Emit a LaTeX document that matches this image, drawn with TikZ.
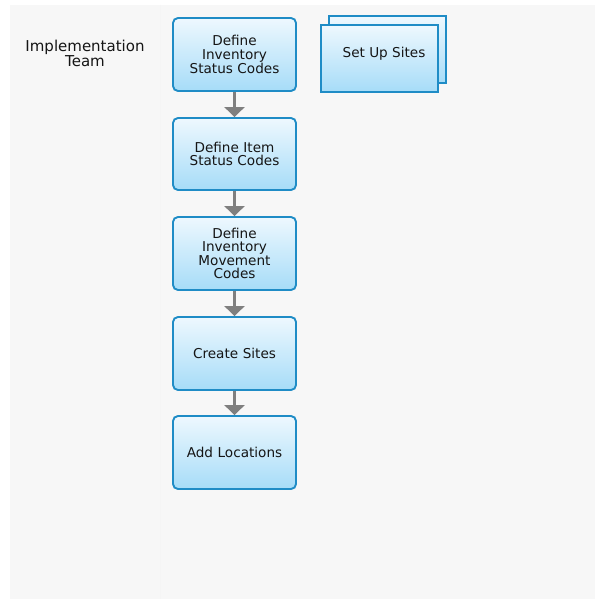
\documentclass[tikz,border=0pt]{standalone}
\usepackage{fontspec}
\setmainfont{DejaVu Sans}
\usetikzlibrary{arrows.meta}
\definecolor{panel}{HTML}{F7F7F7}
\definecolor{bordblue}{HTML}{1F8CC6}
\definecolor{topfill}{HTML}{EEF8FE}
\definecolor{botfill}{HTML}{A6DCF8}
\definecolor{arrowgray}{HTML}{7F7F7F}
\definecolor{txt}{HTML}{151515}
\tikzset{
  boxfont/.style={font=\fontsize{13.6}{13.6}\selectfont, text=txt},
  stepbox/.style={draw=bordblue, line width=1.9pt, rounded corners=5pt,
    top color=topfill, bottom color=botfill, minimum width=123pt,
    text width=118pt, align=center, inner sep=0pt, boxfont},
  flowarrow/.style={draw=arrowgray, line width=2.6pt,
    -{Triangle[width=20pt,length=10pt]}},
  stackbox/.style={draw=bordblue, line width=1.9pt,
    top color=topfill, bottom color=botfill, minimum width=117pt,
    minimum height=67pt, inner sep=0pt},
  lanelabel/.style={align=center, font=\fontsize{15}{14}\selectfont, text=txt}
}
\begin{document}
\begin{tikzpicture}[x=1pt,y=-1pt]
\useasboundingbox (0,0) rectangle (595,599);
\fill[white] (0,0) rectangle (595,599);
\fill[panel] (10,5) rectangle (595,599);
\draw[color=black!4, line width=0.8pt] (160,5) -- (160,599);
\node[lanelabel] (lane) at (85,53) {Implementation\\Team};
\node[stepbox, minimum height=73pt] (s1) at (234.5,54.5) {Define\\Inventory\\Status Codes};
\node[stepbox, minimum height=72pt] (s2) at (234.5,154) {Define Item\\Status Codes};
\node[stepbox, minimum height=73pt] (s3) at (234.5,253.5) {Define\\Inventory\\Movement\\Codes};
\node[stepbox, minimum height=73pt] (s4) at (234.5,353.5) {Create Sites};
\node[stepbox, minimum height=73pt] (s5) at (234.5,452.5) {Add Locations};
\node[stackbox] (back) at (387.5,49.5) {};
\node[stackbox] (sites) at (379.5,58.5) {};
\node[boxfont] (sitestext) at (384,54) {Set Up Sites};
\draw[flowarrow] (s1.south) -- (s2.north);
\draw[flowarrow] (s2.south) -- (s3.north);
\draw[flowarrow] (s3.south) -- (s4.north);
\draw[flowarrow] (s4.south) -- (s5.north);
\end{tikzpicture}
\end{document}
